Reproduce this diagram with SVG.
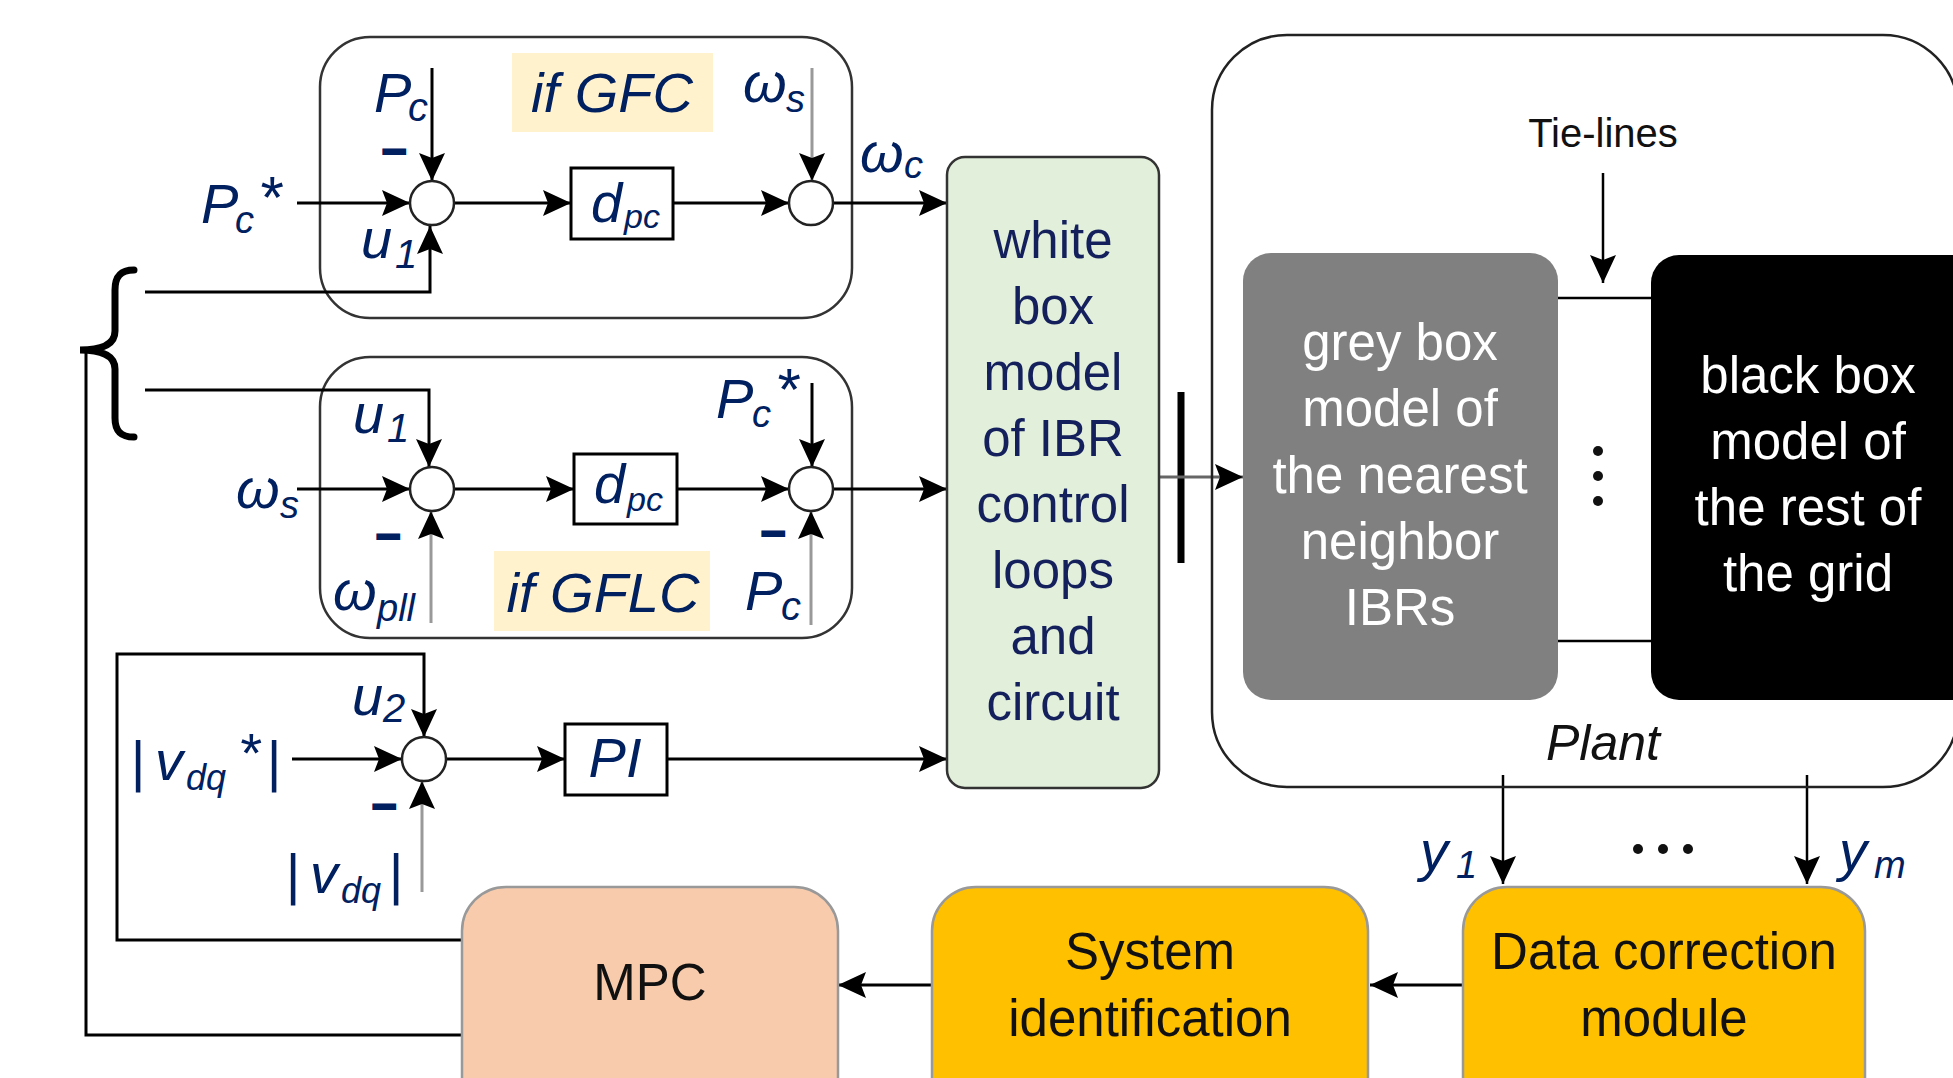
<svg xmlns="http://www.w3.org/2000/svg" width="1953" height="1078" viewBox="0 0 1953 1078">
<defs>
<marker id="ah" markerUnits="userSpaceOnUse" markerWidth="30" markerHeight="28" refX="28" refY="14" orient="auto">
<path d="M0,1 L28,14 L0,27 L5,14 Z" fill="#000"/>
</marker>
<style>
.lbl{font-family:"Liberation Sans",Arial,sans-serif;font-style:italic;fill:#002060;font-size:56px}
.sub{font-size:38px}
.mn{font-family:"Liberation Sans",Arial,sans-serif;font-weight:bold;fill:#002060;stroke:#002060;stroke-width:2;font-size:44px}
.bx{font-family:"Liberation Sans",Arial,sans-serif;font-size:51px;text-anchor:middle}
.wt{fill:#ffffff}
.nv{fill:#14205C}
.bk{fill:#111111}
.ln{fill:none;stroke:#000;stroke-width:3}
.lg{fill:none;stroke:#999;stroke-width:3}
.arr{marker-end:url(#ah)}
.sj{fill:#fff;stroke:#222;stroke-width:2.5}
.grp{fill:none;stroke:#333;stroke-width:2.5}
.hl{fill:#FFF2CC}
.gain{fill:#fff;stroke:#000;stroke-width:3}
</style>
</defs>
<rect width="1953" height="1078" fill="#fff"/>

<g id="gfc-loop">
<rect class="grp" x="320" y="37" width="532" height="281" rx="50"/>
<rect class="hl" x="512" y="53" width="201" height="79"/>
<text class="lbl" x="612" y="112" text-anchor="middle">if GFC</text>
</g>
<g id="gflc-loop">
<rect class="grp" x="320" y="357" width="532" height="281" rx="50"/>
<rect class="hl" x="494" y="551" width="216" height="80"/>
<text class="lbl" x="603" y="612" text-anchor="middle" font-size="55">if GFLC</text>
</g>

<g id="connectors">
<line class="ln arr" x1="297" y1="203" x2="410" y2="203"/>
<line class="ln arr" x1="432" y1="68" x2="432" y2="181"/>
<polyline class="ln arr" points="145,292 430,292 430,226"/>
<line class="ln arr" x1="454" y1="203" x2="571" y2="203"/>
<line class="ln arr" x1="673" y1="203" x2="789" y2="203"/>
<line class="lg arr" x1="812" y1="68" x2="812" y2="181"/>
<line class="ln arr" x1="833" y1="203" x2="947" y2="203"/>
<polyline class="ln arr" points="145,390 429,390 429,467"/>
<line class="ln arr" x1="297" y1="489" x2="410" y2="489"/>
<line class="lg arr" x1="431" y1="623" x2="431" y2="511"/>
<line class="ln arr" x1="454" y1="489" x2="574" y2="489"/>
<line class="ln arr" x1="677" y1="489" x2="789" y2="489"/>
<line class="ln arr" x1="812" y1="383" x2="812" y2="467"/>
<line class="lg arr" x1="811" y1="625" x2="811" y2="511"/>
<line class="ln arr" x1="833" y1="489" x2="947" y2="489"/>
<polyline class="ln arr" points="462,940 117,940 117,654 424,654 424,737"/>
<line class="ln arr" x1="292" y1="759" x2="402" y2="759"/>
<line class="lg arr" x1="422" y1="892" x2="422" y2="781"/>
<line class="ln arr" x1="446" y1="759" x2="565" y2="759"/>
<line class="ln arr" x1="667" y1="759" x2="947" y2="759"/>
<polyline class="ln" points="462,1035 86,1035 86,350"/>
<path d="M134,270 C120,270 115,277 115,290 L115,331 C115,343 105,350 80,350 C105,350 115,357 115,369 L115,418 C115,430 120,437 134,437" fill="none" stroke="#000" stroke-width="7" stroke-linecap="round"/>
<line x1="1181" y1="392" x2="1181" y2="563" stroke="#000" stroke-width="7"/>
<line class="ln arr" x1="1159" y1="477" x2="1243" y2="477" style="stroke:#666"/>
<line class="ln arr" x1="1603" y1="173" x2="1603" y2="283" style="stroke-width:2.5"/>
<line class="ln" x1="1557" y1="298" x2="1652" y2="298" style="stroke-width:2.5"/>
<line class="ln" x1="1557" y1="641" x2="1652" y2="641" style="stroke-width:2.5"/>
<line class="ln arr" x1="1503" y1="775" x2="1503" y2="884" style="stroke-width:2.5"/>
<line class="ln arr" x1="1807" y1="775" x2="1807" y2="884" style="stroke-width:2.5"/>
<line class="ln arr" x1="1463" y1="985" x2="1370" y2="985"/>
<line class="ln arr" x1="932" y1="985" x2="838" y2="985"/>
</g>

<g id="sum1"><circle class="sj" cx="432" cy="203" r="22"/></g>
<g id="sum2"><circle class="sj" cx="811" cy="203" r="22"/></g>
<g id="sum3"><circle class="sj" cx="432" cy="489" r="22"/></g>
<g id="sum4"><circle class="sj" cx="811" cy="489" r="22"/></g>
<g id="sum5"><circle class="sj" cx="424" cy="759" r="22"/></g>

<g id="dpc1"><rect class="gain" x="571" y="168" width="102" height="71"/>
<text class="lbl" font-size="54"><tspan x="591" y="222">d</tspan><tspan x="624" y="228" font-size="34">pc</tspan></text></g>
<g id="dpc2"><rect class="gain" x="574" y="454" width="103" height="70"/>
<text class="lbl" font-size="54"><tspan x="594" y="503">d</tspan><tspan x="627" y="511" font-size="34">pc</tspan></text></g>
<g id="pi"><rect class="gain" x="565" y="724" width="102" height="71"/>
<text class="lbl" x="615" y="777" font-size="48" text-anchor="middle">PI</text></g>

<g id="labels">
<text class="lbl"><tspan x="201" y="223">P</tspan><tspan x="235" y="233" font-size="38">c</tspan><tspan x="258" y="218" font-size="60">*</tspan></text>
<text class="lbl"><tspan x="374" y="112">P</tspan><tspan x="408" y="121" font-size="40">c</tspan></text>
<text class="lbl"><tspan x="743" y="102">ω</tspan><tspan x="786" y="112" font-size="38">s</tspan></text>
<text class="lbl"><tspan x="860" y="172">ω</tspan><tspan x="904" y="178" font-size="38">c</tspan></text>
<text class="lbl"><tspan x="361" y="258">u</tspan><tspan x="395" y="268" font-size="40">1</tspan></text>
<text class="mn" x="382" y="164">–</text>

<text class="lbl"><tspan x="353" y="433">u</tspan><tspan x="387" y="442" font-size="40">1</tspan></text>
<text class="lbl"><tspan x="236" y="508">ω</tspan><tspan x="280" y="518" font-size="38">s</tspan></text>
<text class="lbl"><tspan x="333" y="610">ω</tspan><tspan x="377" y="621" font-size="38">pll</tspan></text>
<text class="lbl"><tspan x="716" y="418">P</tspan><tspan x="752" y="427" font-size="38">c</tspan><tspan x="775" y="410" font-size="60">*</tspan></text>
<text class="lbl"><tspan x="745" y="610">P</tspan><tspan x="781" y="620" font-size="40">c</tspan></text>
<text class="mn" x="376" y="549">–</text>
<text class="mn" x="761" y="546">–</text>

<text class="lbl"><tspan x="352" y="715">u</tspan><tspan x="383" y="722" font-size="40">2</tspan></text>
<text class="lbl" font-size="58"><tspan x="130" y="780">|</tspan><tspan x="155" y="780">v</tspan><tspan x="186" y="790" font-size="36">dq</tspan><tspan x="238" y="772" font-size="56">*</tspan><tspan x="266" y="780">|</tspan></text>
<text class="lbl" font-size="58"><tspan x="285" y="893">|</tspan><tspan x="310" y="893">v</tspan><tspan x="341" y="903" font-size="36">dq</tspan><tspan x="388" y="893">|</tspan></text>
<text class="mn" x="372" y="819">–</text>

<text class="lbl"><tspan x="1420" y="870">y</tspan><tspan x="1456" y="878" font-size="38">1</tspan></text>
<text class="lbl"><tspan x="1839" y="870">y</tspan><tspan x="1874" y="878" font-size="38">m</tspan></text>
<circle cx="1638" cy="849" r="5" fill="#111"/><circle cx="1663" cy="849" r="5" fill="#111"/><circle cx="1688" cy="849" r="5" fill="#111"/>
</g>

<g id="white-box">
<rect x="947" y="157" width="212" height="631" rx="18" fill="#E2EFDA" stroke="#333" stroke-width="2.5"/>
<text class="bx nv" x="1053" y="258">white</text>
<text class="bx nv" x="1053" y="324">box</text>
<text class="bx nv" x="1053" y="390">model</text>
<text class="bx nv" x="1053" y="456">of IBR</text>
<text class="bx nv" x="1053" y="522">control</text>
<text class="bx nv" x="1053" y="588">loops</text>
<text class="bx nv" x="1053" y="654">and</text>
<text class="bx nv" x="1053" y="720">circuit</text>
</g>

<g id="plant">
<rect x="1212" y="35" width="746" height="752" rx="75" fill="none" stroke="#222" stroke-width="2.5"/>
<text x="1603" y="147" font-family="Liberation Sans, Arial, sans-serif" font-size="40" fill="#111" text-anchor="middle">Tie-lines</text>
<text x="1603" y="760" font-family="Liberation Sans, Arial, sans-serif" font-style="italic" font-size="50" fill="#111" text-anchor="middle">Plant</text>
<circle cx="1598" cy="451" r="5" fill="#111"/><circle cx="1598" cy="476" r="5" fill="#111"/><circle cx="1598" cy="501" r="5" fill="#111"/>
</g>
<g id="grey-box">
<rect x="1243" y="253" width="315" height="447" rx="28" fill="#808080"/>
<text class="bx wt" x="1400" y="360">grey box</text>
<text class="bx wt" x="1400" y="426">model of</text>
<text class="bx wt" x="1400" y="493">the nearest</text>
<text class="bx wt" x="1400" y="559">neighbor</text>
<text class="bx wt" x="1400" y="625">IBRs</text>
</g>
<g id="black-box">
<rect x="1651" y="255" width="330" height="445" rx="28" fill="#000"/>
<text class="bx wt" x="1808" y="393">black box</text>
<text class="bx wt" x="1808" y="459">model of</text>
<text class="bx wt" x="1808" y="525">the rest of</text>
<text class="bx wt" x="1808" y="591">the grid</text>
</g>

<g id="mpc">
<rect x="462" y="887" width="376" height="240" rx="44" fill="#F8CBAD" stroke="#999" stroke-width="2.5"/>
<text class="bx bk" x="650" y="1000" font-size="48">MPC</text>
</g>
<g id="sysid">
<rect x="932" y="887" width="436" height="240" rx="44" fill="#FFC000" stroke="#999" stroke-width="2.5"/>
<text class="bx bk" x="1150" y="969">System</text>
<text class="bx bk" x="1150" y="1036">identification</text>
</g>
<g id="dcm">
<rect x="1463" y="887" width="402" height="240" rx="44" fill="#FFC000" stroke="#999" stroke-width="2.5"/>
<text class="bx bk" x="1664" y="969">Data correction</text>
<text class="bx bk" x="1664" y="1036">module</text>
</g>
</svg>
